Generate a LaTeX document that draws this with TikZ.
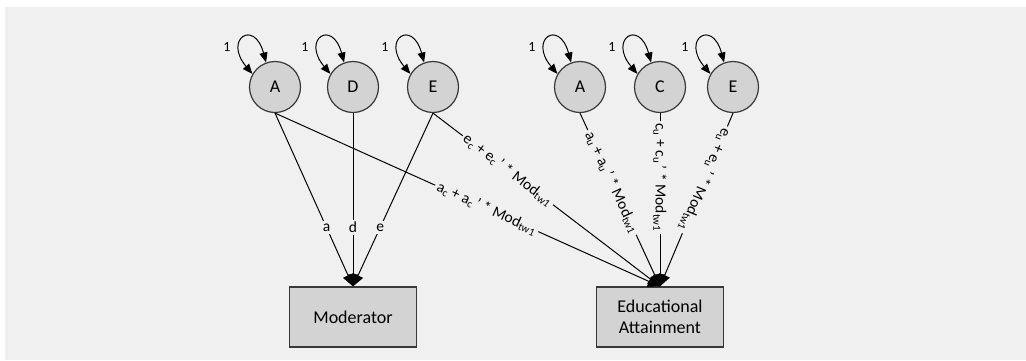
\documentclass[tikz,border=0pt]{standalone}
\usepackage{fontspec}
\setmainfont{Carlito}
\usetikzlibrary{arrows.meta}

\definecolor{panel}{HTML}{F0F0F0}
\definecolor{shade}{HTML}{D3D3D3}
\definecolor{rim}{HTML}{383838}

\tikzset{
  latent/.style={circle,draw=rim,fill=shade,line width=1.2pt,minimum size=51pt,inner sep=0pt,font=\fontsize{18}{20}\selectfont},
  observed/.style={rectangle,draw=rim,fill=shade,line width=1.2pt,minimum width=127pt,minimum height=60pt,align=center,font=\fontsize{18}{21}\selectfont},
  effect/.style={line width=1pt,-{Triangle[length=12pt,width=11pt]}},
  varloop/.style={line width=1pt,{Triangle[length=10pt,width=8pt]}-{Triangle[length=10pt,width=8pt]},looseness=6.5},
  coef/.style={fill=panel,inner sep=2.5pt,font=\fontsize{15.5}{18}\selectfont},
  one/.style={font=\fontsize{14}{16}\selectfont},
}

\begin{document}
\begin{tikzpicture}[x=1pt,y=-1pt]

\useasboundingbox (0,0) rectangle (1026,360);
\fill[panel] (5,7) rectangle (1026,360);

% latent factors
\node[latent] (Am) at (275,87) {A};
\node[latent] (Dm) at (353,87) {D};
\node[latent] (Em) at (433,87) {E};
\node[latent] (Ae) at (580,87) {A};
\node[latent] (Ce) at (660,87) {C};
\node[latent] (Ee) at (733,87) {E};

% observed variables
\node[observed] (mod) at (353,317) {Moderator};
\node[observed] (edu) at (660,317) {Educational\\Attainment};

% variances
\foreach \f in {Am,Dm,Em,Ae,Ce,Ee}{
  \draw[varloop] (\f.150) to[out=130,in=105] (\f.110);
  \node[one] (\f-var) at ([xshift=-48pt,yshift=40pt]\f.center) {1};
}

% paths to moderator
\draw[effect] (Am.south) -- node[coef,pos=0.66] (la) {a} (mod.north);
\draw[effect] (Dm.south) -- node[coef,pos=0.66] (ld) {d} (mod.north);
\draw[effect] (Em.south) -- node[coef,pos=0.66] (le) {e} (mod.north);

% paths to educational attainment
\draw[effect] (Am.south) -- node[coef,pos=0.55,sloped,allow upside down] (lac)
  {a\textsubscript{c} + a\textsubscript{c}\,’ * Mod\textsubscript{tw1}} (edu.north);
\draw[effect] (Em.south) -- node[coef,pos=0.33,sloped,allow upside down] (lec)
  {e\textsubscript{c} + e\textsubscript{c}\,’ * Mod\textsubscript{tw1}} (edu.north);
\draw[effect] (Ae.south) -- node[coef,pos=0.40,sloped,allow upside down] (lau)
  {a\textsubscript{u} + a\textsubscript{u}\,’ * Mod\textsubscript{tw1}} (edu.north);
\draw[effect] (Ce.south) -- node[coef,pos=0.37,sloped,allow upside down] (lcu)
  {c\textsubscript{u} + c\textsubscript{u}\,’ * Mod\textsubscript{tw1}} (edu.north);
\draw[effect] (Ee.south) -- node[coef,pos=0.385,sloped,allow upside down] (leu)
  {e\textsubscript{u} + e\textsubscript{u}\,’ * Mod\textsubscript{tw1}} (edu.north);

\end{tikzpicture}
\end{document}
